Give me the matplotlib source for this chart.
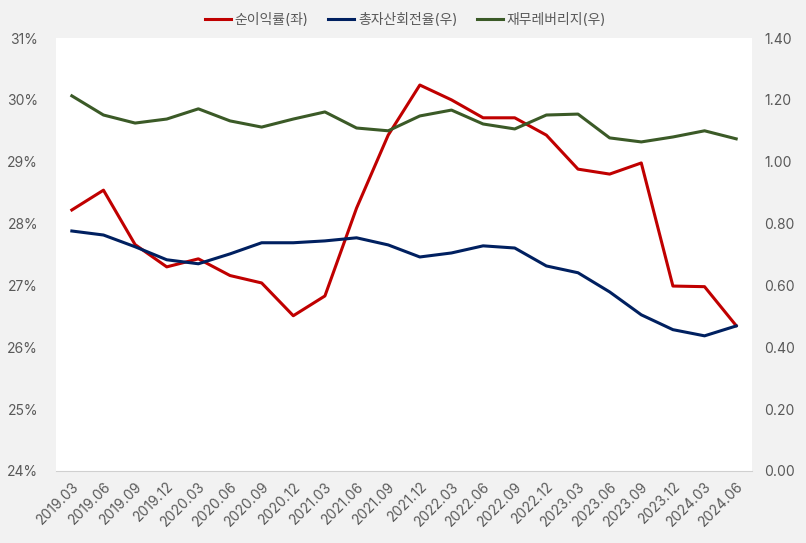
import matplotlib.pyplot as plt
from matplotlib.ticker import FuncFormatter

plt.rcParams['font.family'] = ['Inter', 'Noto Sans CJK KR', 'DejaVu Sans']

quarters = ['2019.03', '2019.06', '2019.09', '2019.12', '2020.03', '2020.06', '2020.09',
            '2020.12', '2021.03', '2021.06', '2021.09', '2021.12', '2022.03', '2022.06',
            '2022.09', '2022.12', '2023.03', '2023.06', '2023.09', '2023.12', '2024.03',
            '2024.06']

# 순이익률 (%), left axis
net_margin = [28.22, 28.54, 27.66, 27.30, 27.43, 27.16, 27.04, 26.51, 26.83, 28.25, 29.43,
              30.24, 30.00, 29.71, 29.71, 29.43, 28.88, 28.80, 28.98, 26.99, 26.98, 26.35]
# 총자산회전율, right axis
asset_turnover = [0.776, 0.763, 0.725, 0.683, 0.670, 0.702, 0.738, 0.738, 0.744, 0.754, 0.731,
                  0.692, 0.705, 0.728, 0.721, 0.663, 0.641, 0.579, 0.505, 0.457, 0.437, 0.469]
# 재무레버리지, right axis
leverage = [1.213, 1.151, 1.125, 1.138, 1.171, 1.132, 1.112, 1.138, 1.161, 1.109, 1.100,
            1.148, 1.167, 1.122, 1.106, 1.151, 1.154, 1.077, 1.064, 1.080, 1.100, 1.074]

red = '#C00000'
navy = '#002060'
green = '#3B5A27'
txt = '#595959'

fig = plt.figure(figsize=(8.06, 5.43), dpi=100, facecolor='#F2F2F2')
ax = fig.add_axes([0.0695, 0.1326, 0.8635, 0.7974])
ax.set_facecolor('white')
ax2 = ax.twinx()

x = list(range(len(quarters)))
l1, = ax.plot(x, net_margin, color=red, lw=2.2, label='순이익률(좌)')
l2, = ax2.plot(x, asset_turnover, color=navy, lw=2.2, label='총자산회전율(우)')
l3, = ax2.plot(x, leverage, color=green, lw=2.2, label='재무레버리지(우)')

ax.set_xlim(-0.5, len(quarters) - 0.5)
ax.set_ylim(24, 31)
ax.set_yticks(range(24, 32))
ax.yaxis.set_major_formatter(FuncFormatter(lambda v, p: f'{v:.0f}%'))
ax2.set_ylim(0, 1.4)
ax2.set_yticks([0, 0.2, 0.4, 0.6, 0.8, 1.0, 1.2, 1.4])
ax2.yaxis.set_major_formatter(FuncFormatter(lambda v, p: f'{v:.2f}'))

ax.set_xticks(x)
ax.set_xticklabels(quarters, rotation=45, ha='right', rotation_mode='anchor')

for a in (ax, ax2):
    for s in a.spines.values():
        s.set_visible(False)
    a.tick_params(length=0, colors=txt, labelsize=10)
ax.spines['bottom'].set_visible(True)
ax.spines['bottom'].set_color('#D0D0D0')
ax.tick_params(axis='y', pad=13)
ax.tick_params(axis='x', pad=6)
ax2.tick_params(axis='y', pad=9)

fig.legend(handles=[l1, l2, l3], loc='center', bbox_to_anchor=(0.503, 0.963), ncol=3,
           frameon=False, fontsize=10, labelcolor=txt, handlelength=1.9,
           handletextpad=0.25, columnspacing=1.4)

fig.savefig('out.png', dpi=100, facecolor=fig.get_facecolor())
